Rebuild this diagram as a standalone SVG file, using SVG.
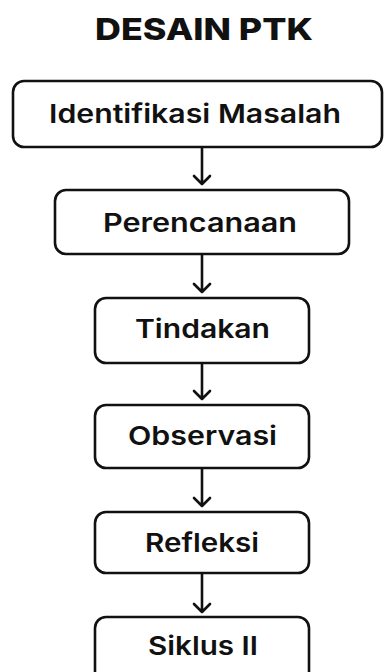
<svg xmlns="http://www.w3.org/2000/svg" width="384" height="672" viewBox="0 0 384 672">
<defs>
<style>
.box{fill:#fff;stroke:#111;stroke-width:2.6}
.lbl{font-family:Inter,"Noto Sans","DejaVu Sans",sans-serif;font-size:26px;font-weight:600;fill:#111;text-anchor:middle}
.title{font-family:Inter,"DejaVu Sans",sans-serif;font-size:30px;font-weight:800;fill:#111;text-anchor:middle}
.conn{stroke:#111;stroke-width:2.6;fill:none;stroke-linecap:round;stroke-linejoin:round}
</style>
</defs>
<rect width="384" height="672" fill="#fff"/>
<text class="title" x="204" y="40" textLength="218" lengthAdjust="spacingAndGlyphs">DESAIN PTK</text>
<g id="connectors">
<path class="conn" d="M202 148V184M194 176L202 184L210 176"/>
<path class="conn" d="M202 255V292M194 284L202 292L210 284"/>
<path class="conn" d="M202 364V399M194 391L202 399L210 391"/>
<path class="conn" d="M202 469V506M194 498L202 506L210 498"/>
<path class="conn" d="M202 574V612M194 604L202 612L210 604"/>
</g>
<g id="n1"><rect class="box" x="13" y="81" width="369" height="66" rx="11"/><text class="lbl" x="195" y="123" textLength="292" lengthAdjust="spacingAndGlyphs">Identifikasi Masalah</text></g>
<g id="n2"><rect class="box" x="55" y="190" width="294" height="64" rx="11"/><text class="lbl" x="200" y="232" textLength="194" lengthAdjust="spacingAndGlyphs">Perencanaan</text></g>
<g id="n3"><rect class="box" x="95" y="298" width="214" height="65" rx="11"/><text class="lbl" x="202.5" y="338" textLength="135" lengthAdjust="spacingAndGlyphs">Tindakan</text></g>
<g id="n4"><rect class="box" x="95" y="405" width="214" height="63" rx="11"/><text class="lbl" x="202.5" y="445" textLength="149" lengthAdjust="spacingAndGlyphs">Observasi</text></g>
<g id="n5"><rect class="box" x="95" y="512" width="214" height="61" rx="11"/><text class="lbl" x="202" y="552" textLength="114" lengthAdjust="spacingAndGlyphs">Refleksi</text></g>
<g id="n6"><rect class="box" x="95" y="617" width="214" height="70" rx="11"/><text class="lbl" x="203" y="655" textLength="110" lengthAdjust="spacingAndGlyphs">Siklus II</text></g>
</svg>
